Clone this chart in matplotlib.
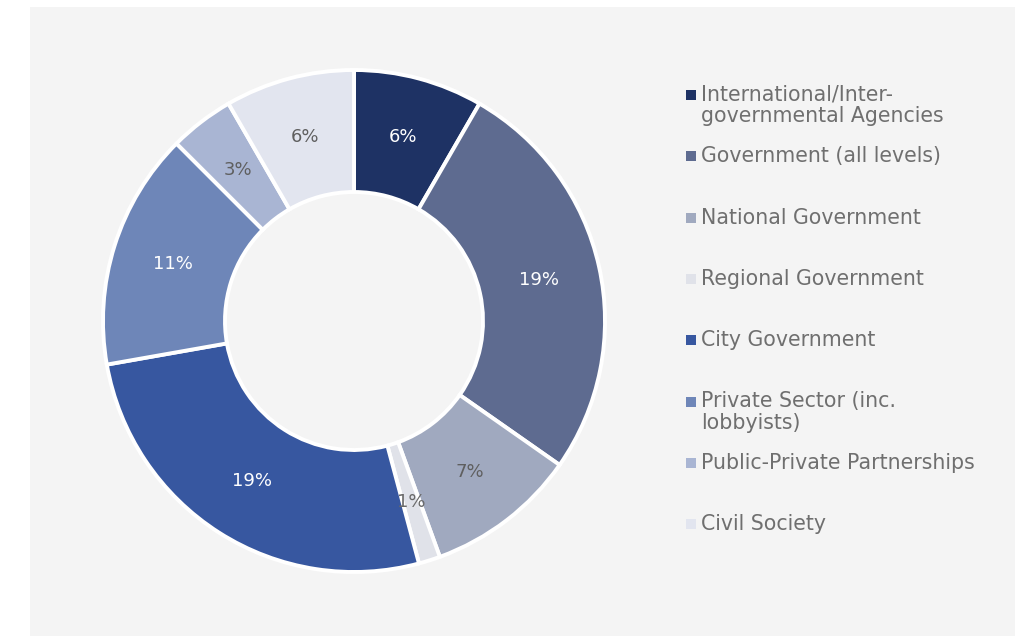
import numpy as np
import matplotlib.pyplot as plt
from matplotlib.patches import Rectangle

categories = [
    "International/Inter-\ngovernmental Agencies",
    "Government (all levels)",
    "National Government",
    "Regional Government",
    "City Government",
    "Private Sector (inc.\nlobbyists)",
    "Public-Private Partnerships",
    "Civil Society",
]
shares = [6, 19, 7, 1, 19, 11, 3, 6]
colors = ["#1e3264", "#5e6b90", "#a0a9bf", "#e0e2e9",
          "#3757a0", "#6e86b8", "#a9b5d3", "#e2e5ef"]
label_colors = ["#ffffff", "#ffffff", "#5f5f5f", "#6a6a6a",
                "#ffffff", "#ffffff", "#5f5f5f", "#5f5f5f"]

plt.rcParams["font.family"] = ["DejaVu Sans"]

W, H = 1032, 636
fig = plt.figure(figsize=(W / 100, H / 100), dpi=100)
fig.patch.set_facecolor("white")

# light grey panel behind everything
fig.patches.append(Rectangle((30 / W, 0), (1015 - 30) / W, (636 - 7) / H,
                             transform=fig.transFigure, facecolor="#f4f4f4",
                             edgecolor="none", zorder=-1))

# donut
cx, cy, r_out, r_in = 354, 321, 251, 129
ax = fig.add_axes([(cx - r_out) / W, (H - cy - r_out) / H, 2 * r_out / W, 2 * r_out / H])
ax.set_facecolor("none")
ax.set_zorder(1)
wedges, _ = ax.pie(shares, colors=colors, startangle=90, counterclock=False,
                   radius=1, wedgeprops=dict(width=(r_out - r_in) / r_out,
                                             edgecolor="white", linewidth=2.8))
ax.set_xlim(-1, 1)
ax.set_ylim(-1, 1)
ax.set_aspect("equal")
ax.axis("off")

mid_r = (1 + r_in / r_out) / 2
for w, v, c in zip(wedges, shares, label_colors):
    ang = np.deg2rad((w.theta1 + w.theta2) / 2)
    ax.text(mid_r * np.cos(ang), mid_r * np.sin(ang), f"{v}%", ha="center",
            va="center", fontsize=13, color=c)

# legend on the right, one row every ~61 px
x_box, x_txt, y0, step = 686, 701, 95, 61.3
for i, (lab, col) in enumerate(zip(categories, colors)):
    y = y0 + i * step
    fig.patches.append(Rectangle((x_box / W, (H - y - 5) / H), 10 / W, 10 / H,
                                 transform=fig.transFigure, facecolor=col,
                                 edgecolor="none", zorder=2))
    fig.text(x_txt / W, (H - y + 10) / H, lab, ha="left", va="top",
             fontsize=14.8, color="#6f6f6f", linespacing=1.08)

fig.savefig("out.png", dpi=100)
